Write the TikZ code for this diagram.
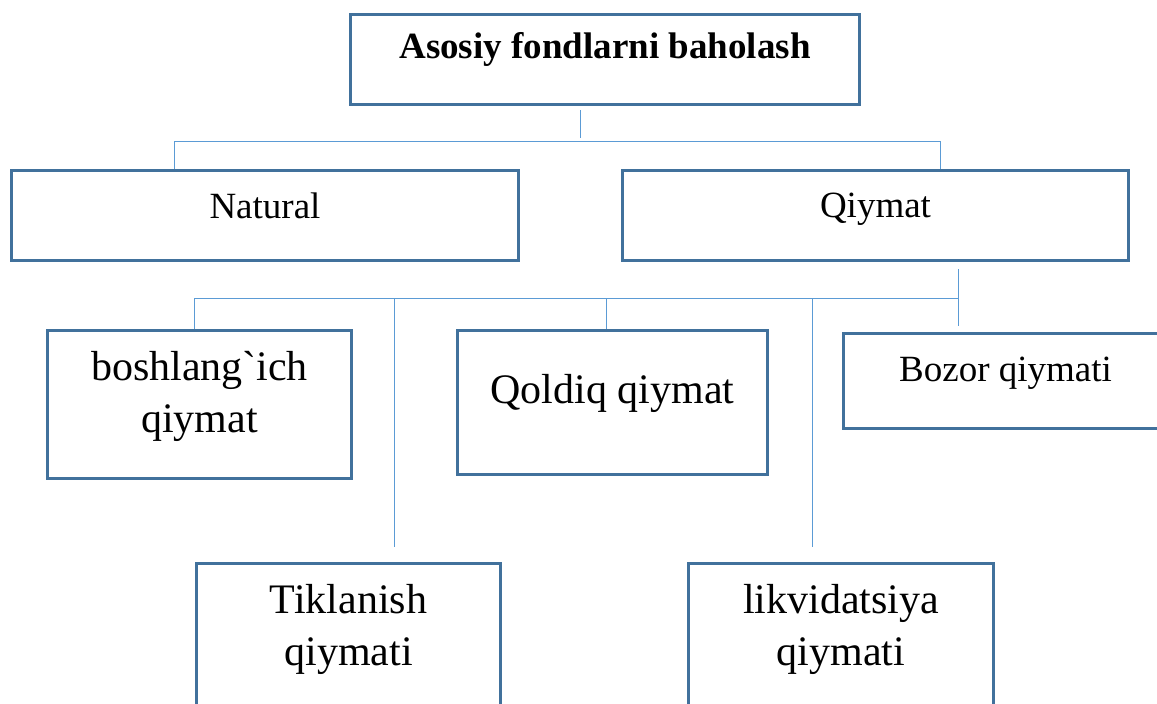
\documentclass[tikz,border=0pt]{standalone}
\usepackage{fontspec}
\setmainfont{Liberation Serif}[Ligatures=TeXOff]
\usepackage{tikz}
\usetikzlibrary{positioning}
\definecolor{boxblue}{HTML}{41719C}
\definecolor{lineblue}{HTML}{5B9BD5}

\begin{document}
\begin{tikzpicture}[
    x=1pt, y=1pt,
    box/.style={rectangle, draw=boxblue, line width=3pt, anchor=north west, inner sep=0},
    txt/.style={inner sep=0, anchor=north, align=center},
    midtext/.style={font=\fontsize{37}{44}\selectfont},
    bigtext/.style={font=\fontsize{42}{52}\selectfont},
    link/.style={draw=lineblue, line width=0.9pt}]
\useasboundingbox (0,0) rectangle (1157,-704);

% boxes
\node[box, minimum width=509, minimum height=90]  (root)    at (349,-13)  {};
\node[box, minimum width=507, minimum height=90]  (natural) at (10,-169)  {};
\node[box, minimum width=506, minimum height=90]  (qiymat)  at (621,-169) {};
\node[box, minimum width=304, minimum height=148] (boshl)   at (46,-329)  {};
\node[box, minimum width=310, minimum height=144] (qoldiq)  at (456,-329) {};
\node[box, minimum width=324, minimum height=95]  (bozor)   at (842,-332) {};
\node[box, minimum width=304, minimum height=170] (tiklan)  at (195,-562) {};
\node[box, minimum width=305, minimum height=170] (likvid)  at (687,-562) {};

% texts
\node[txt, midtext, below=19pt of root.north]    (root-t)    {\bfseries Asosiy fondlarni baholash};
\node[txt, midtext, below=24pt of natural.north] (natural-t) {Natural};
\node[txt, midtext, below=24pt of qiymat.north]  (qiymat-t)  {Qiymat};
\node[txt, bigtext, below=22pt of boshl.north]   (boshl-t)   {boshlang`ich\\qiymat};
\node[txt, bigtext, below=45pt of qoldiq.north]  (qoldiq-t)  {Qoldiq qiymat};
\node[txt, midtext, below=25pt of bozor.north]   (bozor-t)   {Bozor qiymati};
\node[txt, bigtext, below=22pt of tiklan.north]  (tiklan-t)  {Tiklanish\\qiymati};
\node[txt, bigtext, below=22pt of likvid.north]  (likvid-t)  {likvidatsiya\\qiymati};

% connectors
\coordinate (top-bus) at (580,-141);
\coordinate (nat-bus) at (174,-141);
\coordinate (qiy-bus) at (940,-141);
\coordinate (val-bus) at (958,-298);
\coordinate (b1) at (194,-298);
\coordinate (b2) at (394,-298);
\coordinate (b3) at (606,-298);
\coordinate (b4) at (812,-298);

\draw[link, shorten <=4pt, shorten >=3pt] (root.south -| top-bus) -- (top-bus);
\draw[link] (natural.north -| nat-bus) -- (nat-bus) -- (qiy-bus) -- (qiymat.north -| qiy-bus);
\draw[link, shorten <=7pt] (qiymat.south -| val-bus) -- (val-bus);
\draw[link, shorten >=6pt] (b1) -- (val-bus) -- (bozor.north -| val-bus);
\draw[link] (b1) -- (boshl.north -| b1);
\draw[link, shorten >=15pt] (b2) -- (tiklan.north -| b2);
\draw[link] (b3) -- (qoldiq.north -| b3);
\draw[link, shorten >=15pt] (b4) -- (likvid.north -| b4);

\end{tikzpicture}
\end{document}
